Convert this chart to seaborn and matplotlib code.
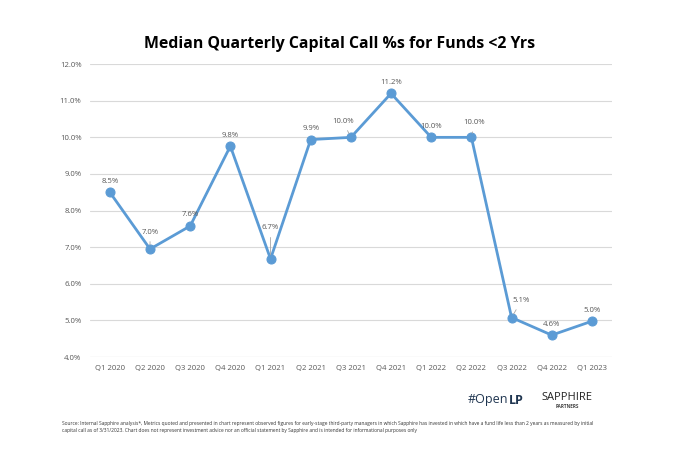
import matplotlib
matplotlib.use("Agg")
import matplotlib.pyplot as plt
import seaborn as sns
import pandas as pd

# data
quarters = ['Q1 2020', 'Q2 2020', 'Q3 2020', 'Q4 2020', 'Q1 2021', 'Q2 2021', 'Q3 2021',
            'Q4 2021', 'Q1 2022', 'Q2 2022', 'Q3 2022', 'Q4 2022', 'Q1 2023']
call_pct = [8.5, 6.95, 7.58, 9.76, 6.68, 9.94, 10.0, 11.2, 10.0, 10.0, 5.08, 4.6, 4.98]
labels = ['8.5%', '7.0%', '7.6%', '9.8%', '6.7%', '9.9%', '10.0%',
          '11.2%', '10.0%', '10.0%', '5.1%', '4.6%', '5.0%']
y_ticks = [4, 5, 6, 7, 8, 9, 10, 11, 12]

# label offsets in pixels and whether a leader line is drawn
label_offsets = [(0, 11), (0, 17), (0, 11), (0, 11), (0, 31), (0, 11), (-8, 16),
                 (0, 11), (0, 11), (3, 15), (10, 17), (0, 11), (0, 11)]
leaders = [False, True, False, False, True, False, True,
           False, False, True, True, False, False]

df = pd.DataFrame({'quarter': quarters, 'pct': call_pct})
df['pos'] = range(len(df))

sns.set_style('white')
plt.rcParams['font.family'] = ['Open Sans', 'DejaVu Sans']

blue = '#5B9BD5'
grey_txt = '#595959'

fig = plt.figure(figsize=(6.8, 4.68), dpi=100)
ax = fig.add_axes([0.132, 0.237, 0.768, 0.626])

sns.lineplot(data=df, x='pos', y='pct', ax=ax, color=blue, lw=2,
             marker='o', markersize=6.5, markeredgecolor=blue, zorder=3)

for i, row in df.iterrows():
    dx, dy = label_offsets[i]
    kw = {}
    if leaders[i]:
        kw['arrowprops'] = dict(arrowstyle='-', color='#A6A6A6', lw=0.6, shrinkA=2, shrinkB=3)
    ax.annotate(labels[i], (row['pos'], row['pct']), xytext=(dx, dy),
                textcoords='offset pixels', ha='center', va='center',
                fontsize=5.6, color=grey_txt, **kw)

ax.set_xlim(-0.5, len(quarters) - 0.5)
ax.set_ylim(4, 12)
ax.set_yticks(y_ticks)
ax.set_yticklabels([f'{v:.1f}%' for v in y_ticks])
ax.set_xticks(df['pos'])
ax.set_xticklabels(quarters)
ax.tick_params(axis='both', length=0, labelsize=5.6, labelcolor=grey_txt, pad=6)
ax.grid(axis='y', color='#D9D9D9', lw=0.8)
ax.set_axisbelow(True)
ax.set_xlabel('')
ax.set_ylabel('')
for s in ax.spines.values():
    s.set_visible(False)
ax.axhline(4, color='#D9D9D9', lw=0.8, zorder=0)

fig.text(0.5, 0.907, 'Median Quarterly Capital Call %s for Funds <2 Yrs',
         ha='center', va='center', fontsize=11.4, fontweight='bold', color='black')

# logos
logo_y = 1 - 400 / 468
t_open = fig.text(468 / 680, logo_y, '#Open', ha='left', va='center', fontsize=9,
                  color='#1F3550')
fig.canvas.draw()
bb = t_open.get_window_extent()
fig.text(bb.x1 / 680, logo_y, 'LP', ha='left', va='center', fontsize=9,
         fontweight='bold', color='#1F3550')
fig.text(567 / 680, 1 - 398 / 468, 'SAPPHIRE', ha='center', va='center', fontsize=8,
         color='#222222')
fig.text(567 / 680, 1 - 406 / 468, 'PARTNERS', ha='center', va='center', fontsize=3.3,
         fontweight='bold', color='#444444')

fig.text(0.091, 0.087,
         'Source: Internal Sapphire analysis*, Metrics quoted and presented in chart represent observed figures for '
         'early-stage third-party managers in which Sapphire has invested in which have a fund life less than 2 years as measured by initial\n'
         'capital call as of 3/31/2023. Chart does not represent investment advice nor an official statement by '
         'Sapphire and is intended for informational purposes only',
         ha='left', va='center', fontsize=3.55, color='#333333', linespacing=1.5)

fig.savefig('out.png', dpi=100, facecolor='white')
